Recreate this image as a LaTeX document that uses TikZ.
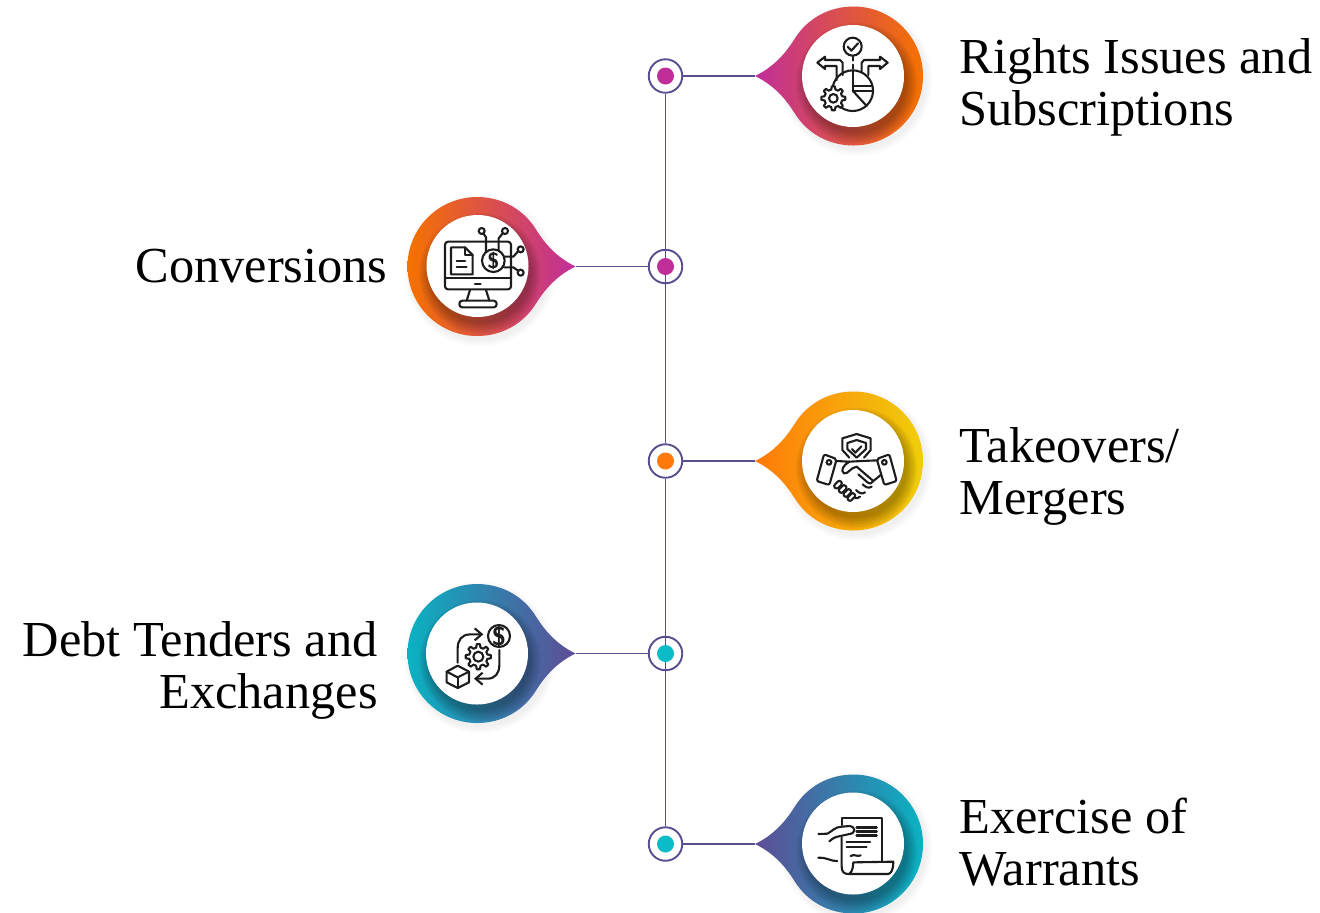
\documentclass[tikz,border=0pt]{standalone}
\usepackage{fontspec}
\setmainfont{Liberation Serif}
\usetikzlibrary{arrows.meta,calc}
\definecolor{lineC}{HTML}{5B4E8E}
\definecolor{magC}{HTML}{C02E9A}
\definecolor{redC}{HTML}{E0504F}
\definecolor{oraC}{HTML}{F57200}
\definecolor{ora2C}{HTML}{FF7A0A}
\definecolor{ambC}{HTML}{FF9E05}
\definecolor{yelC}{HTML}{F0CE0A}
\definecolor{tealC}{HTML}{0AB2C2}
\definecolor{midC}{HTML}{37759F}
\definecolor{purC}{HTML}{5E4C96}
\definecolor{dotT}{HTML}{0ABCC8}
\definecolor{inkC}{HTML}{1C1C1E}
\tikzset{
  ring/.style={circle,draw=lineC,line width=0.95pt,fill=white,minimum size=16.75pt,inner sep=0pt},
  dot/.style={circle,fill=#1,minimum size=8.5pt,inner sep=0pt},
  link/.style={draw=lineC,line width=0.9pt},
  disc/.style={circle,fill=white,minimum size=51pt,inner sep=0pt},
  lab/.style={font=\fontsize{25.2}{26}\selectfont,inner sep=0pt},
  ico/.style={draw=inkC,line width=1.05pt,line cap=round,line join=round},
  zoomed/.style={shift={#1},x=0.16667pt,y=-0.16667pt}
}
% pin outline around (cx,cy); #3=1 tip left, -1 tip right
\newcommand{\pinpath}[3]{%
  ($(#1,#2)+(#3*-98.5,0)$) .. controls ($(#1,#2)+(#3*-82,-8)$) and ($(#1,#2)+(#3*-69.6,-20)$) .. ($(#1,#2)+(#3*-59,-37)$)
  .. controls ($(#1,#2)+(#3*-46,-58)$) and ($(#1,#2)+(#3*-24,-69.5)$) .. ($(#1,#2)+(0,-69.5)$)
  .. controls ($(#1,#2)+(#3*38.4,-69.5)$) and ($(#1,#2)+(#3*69.5,-38.4)$) .. ($(#1,#2)+(#3*69.5,0)$)
  .. controls ($(#1,#2)+(#3*69.5,38.4)$) and ($(#1,#2)+(#3*38.4,69.5)$) .. ($(#1,#2)+(0,69.5)$)
  .. controls ($(#1,#2)+(#3*-24,69.5)$) and ($(#1,#2)+(#3*-46,58)$) .. ($(#1,#2)+(#3*-59,37)$)
  .. controls ($(#1,#2)+(#3*-69.6,20)$) and ($(#1,#2)+(#3*-82,8)$) .. ($(#1,#2)+(#3*-98.5,0)$) -- cycle}
% #1 cx #2 cy #3 dir #4 left #5 mid #6 right
\newcommand{\pinshape}[6]{%
  \foreach \r in {70,71.5,...,77}{\fill[black,opacity=0.010] (#1+3,#2+4) circle[radius=\r];}
  \shade[left color=#4,middle color=#5,right color=#6] \pinpath{#1}{#2}{#3};
  \begin{scope}
    \clip \pinpath{#1}{#2}{#3};
    \foreach \r in {50,51.5,...,61}{\fill[black,opacity=0.038] (#1+3,#2+7) circle[radius=\r];}
  \end{scope}}
% gear: cx cy router rinner teeth hole
\newcommand{\gearshape}[6]{%
  \filldraw[ico,fill=white] ({#1+#4*cos(360/#5*0.30)},{#2+#4*sin(360/#5*0.30)})
    \foreach \k in {1,...,#5}{
     -- ({#1+#4*cos(360*\k/#5-360/#5*0.30)},{#2+#4*sin(360*\k/#5-360/#5*0.30)})
     -- ({#1+#3*cos(360*\k/#5-360/#5*0.16)},{#2+#3*sin(360*\k/#5-360/#5*0.16)})
     -- ({#1+#3*cos(360*\k/#5+360/#5*0.16)},{#2+#3*sin(360*\k/#5+360/#5*0.16)})
     -- ({#1+#4*cos(360*\k/#5+360/#5*0.30)},{#2+#4*sin(360*\k/#5+360/#5*0.30)})
    } -- cycle;
  \draw[ico] (#1,#2) circle[radius=#6];}
\begin{document}
\begin{tikzpicture}[x=0.5pt,y=-0.5pt]
\useasboundingbox (0,0) rectangle (1320,912);
\fill[white] (0,0) rectangle (1320,912);

% pins
\pinshape{853.5}{76}{1}{magC}{redC}{oraC}
\pinshape{477}{266.5}{-1}{oraC}{redC}{magC}
\pinshape{853.5}{461}{1}{ora2C}{ambC}{yelC}
\pinshape{477}{653.5}{-1}{tealC}{midC}{purC}
\pinshape{853.5}{844}{1}{purC}{midC}{tealC}

\coordinate (tip1) at (755,76);
\coordinate (tip2) at (575.5,266.5);
\coordinate (tip3) at (755,461);
\coordinate (tip4) at (575.5,653.5);
\coordinate (tip5) at (755,844);

\node[disc] (disc1) at (853,76) {};
\node[disc] (disc2) at (477.5,266) {};
\node[disc] (disc3) at (853,461) {};
\node[disc] (disc4) at (477,653.5) {};
\node[disc] (disc5) at (853,843.5) {};

% rings
\node[ring] (ring1) at (665.5,76) {};
\node[ring] (ring2) at (665.5,266.5) {};
\node[ring] (ring3) at (665.5,461) {};
\node[ring] (ring4) at (665.5,653.5) {};
\node[ring] (ring5) at (665.5,844) {};

% connectors
\draw[link] (ring1) -- (ring3);
\draw[link] (ring3) -- (ring5);
\draw[link] (ring1) -- (tip1);
\draw[link] (ring2) -- (tip2);
\draw[link] (ring3) -- (tip3);
\draw[link] (ring4) -- (tip4);
\draw[link] (ring5) -- (tip5);

\node[dot=magC] (dot1) at (ring1) {};
\node[dot=magC] (dot2) at (ring2) {};
\node[dot=ora2C] (dot3) at (ring3) {};
\node[dot=dotT] (dot4) at (ring4) {};
\node[dot=dotT] (dot5) at (ring5) {};

% icon 1
\begin{scope}[zoomed={(640,0)}]
  \draw[ico] (638,140) circle[radius=27];
  \draw[ico] (623,140) -- (634,152) -- (654,130);
  \draw[ico,dash pattern=on 2pt off 2pt] (638,170) -- (638,210);
  \draw[ico] (590,240) -- (590,198) -- (555,198) -- (555,207) -- (532,188) -- (555,170) -- (555,180) -- (600,180) -- (608,188) -- (608,225);
  \draw[ico] (685,225) -- (685,198) -- (720,198) -- (720,207) -- (743,188) -- (720,170) -- (720,180) -- (672,180) -- (665,188) -- (665,215);
  \draw[ico] (638,272) circle[radius=61];
  \draw[ico] (638,211) -- (638,272) -- (699,272);
  \draw[ico] (640,258) -- (697,258);
  \draw[ico] (638,272) -- (680,318);
  \gearshape{580}{295}{36}{27}{8}{13}
\end{scope}

% icon 2
\begin{scope}[zoomed={(400,190)}]
  \draw[ico,rounded corners=1.5pt] (135,155) rectangle (333,298);
  \draw[ico] (135,265) -- (333,265);
  \draw[ico] (225,283) -- (242,283);
  \draw[ico] (210,300) -- (200,332);
  \draw[ico] (258,300) -- (268,332);
  \draw[ico,rounded corners=1.5pt] (178,332) rectangle (290,352);
  \draw[ico] (153,172) -- (195,172) -- (218,195) -- (218,253) -- (153,253) -- cycle;
  \draw[ico] (195,172) -- (195,195) -- (218,195);
  \draw[ico] (170,212) -- (195,212);
  \draw[ico] (170,232) -- (200,232);
  \draw[ico] (258,186) -- (258,142) -- (250,130);
  \draw[ico] (296,182) -- (296,145) -- (308,130);
  \draw[ico] (314,200) -- (340,200) -- (354,184);
  \draw[ico] (312,232) -- (340,232) -- (354,242);
  \filldraw[ico,fill=white] (280,212) circle[radius=34];
  \node[font=\sffamily\bfseries\fontsize{11}{11}\selectfont,text=inkC,inner sep=0pt] (dollar2) at (280,212) {\$};
  \draw[ico] (245,123) circle[radius=9];
  \draw[ico] (315,123) circle[radius=9];
  \draw[ico] (362,178) circle[radius=9];
  \draw[ico] (362,248) circle[radius=9];
\end{scope}

% icon 3
\begin{scope}[zoomed={(640,385)}]
  \draw[ico] (650,147) -- (692,160) -- (692,195) -- (672,218);
  \draw[ico] (650,147) -- (607,160) -- (607,195) -- (628,218);
  \draw[ico] (650,165) -- (678,174) -- (678,192) -- (650,218) -- (622,192) -- (622,174) -- cycle;
  \draw[ico] (636,192) -- (646,203) -- (664,184);
  \draw[ico,rounded corners=1pt] (552,208) -- (590,222) -- (568,300) -- (530,288) -- cycle;
  \draw[ico,rounded corners=1pt] (748,208) -- (710,222) -- (733,300) -- (770,288) -- cycle;
  \draw[ico] (567,232) circle[radius=7];
  \draw[ico] (733,232) circle[radius=7];
  \draw[ico] (590,228) -- (628,230) .. controls (610,240) and (600,258) .. (612,265) .. controls (625,268) and (630,248) .. (650,245) -- (700,288);
  \draw[ico] (628,230) -- (665,228) -- (712,226);
  \draw[ico] (722,270) -- (700,288) .. controls (690,300) and (685,295) .. (680,290) -- (655,268);
  \draw[ico] (695,305) .. controls (685,312) and (675,305) .. (668,298);
  \draw[ico] (675,322) .. controls (665,330) and (655,322) .. (648,315);
  \draw[ico] (660,335) .. controls (650,342) and (645,340) .. (640,335);
  \foreach \cx/\cy in {594/299,608/312,622/324,634/336}{
    \filldraw[ico,fill=white,rounded corners=1pt] (\cx+14,\cy-4) -- (\cx+4,\cy-14) -- (\cx-14,\cy+4) -- (\cx-4,\cy+14) -- cycle;}
\end{scope}

% icon 4
\begin{scope}[zoomed={(400,580)}]
  \draw[ico] (297,168) circle[radius=33];
  \node[font=\sffamily\bfseries\fontsize{13}{13}\selectfont,text=inkC,inner sep=0pt] (dollar4) at (297,170) {\$};
  \gearshape{235}{230}{38}{28}{8}{15}
  \draw[ico,-{Straight Barb[length=3.5pt,width=6pt]}] (173,248) -- (173,205) .. controls (173,180) and (185,164) .. (210,163) -- (250,163);
  \draw[ico,-{Straight Barb[length=3.5pt,width=6pt]}] (298,210) -- (298,255) .. controls (298,280) and (285,296) .. (262,296) -- (222,296);
  \draw[ico] (173,257) -- (207,275) -- (207,307) -- (173,324) -- (140,307) -- (140,275) -- cycle;
  \draw[ico] (140,275) -- (173,292) -- (207,275);
  \draw[ico] (173,292) -- (173,324);
\end{scope}

% icon 5
\begin{scope}[zoomed={(640,770)}]
  \draw[ico] (605,165) -- (605,145) -- (727,145) -- (727,272);
  \draw[ico] (535,192) -- (562,191) .. controls (575,185) and (585,170) .. (605,170) -- (628,168) .. controls (648,170) and (648,190) .. (628,192) -- (592,200) .. controls (580,203) and (575,208) .. (568,214);
  \draw[ico] (605,203) -- (605,290) .. controls (605,305) and (612,312) .. (625,312) -- (745,312) .. controls (755,310) and (760,295) .. (760,275) -- (640,277) .. controls (638,290) and (640,300) .. (628,312);
  \draw[ico] (535,263) .. controls (555,260) and (575,275) .. (592,273);
  \draw[ico,line width=1.2pt] (650,172) -- (710,172);
  \draw[ico,line width=1.2pt] (650,184) -- (710,184);
  \draw[ico,line width=1.2pt] (650,196) -- (710,196);
  \draw[ico] (620,215) -- (690,215);
  \draw[ico] (620,232) -- (680,232);
  \draw[ico] (632,258) .. controls (645,250) and (650,262) .. (662,256);
\end{scope}

% labels
\node[lab,align=left,anchor=west] (t1) at (959,87) {Rights Issues and\\Subscriptions};
\node[lab,anchor=base east] (t2) at (388,282) {Conversions};
\node[lab,align=left,anchor=west] (t3) at (959,476) {Takeovers/\\Mergers};
\node[lab,align=right,anchor=east] (t4) at (378,670) {Debt Tenders and\\Exchanges};
\node[lab,align=left,anchor=west] (t5) at (959,842) {Exercise of\\Warrants};
\end{tikzpicture}
\end{document}
